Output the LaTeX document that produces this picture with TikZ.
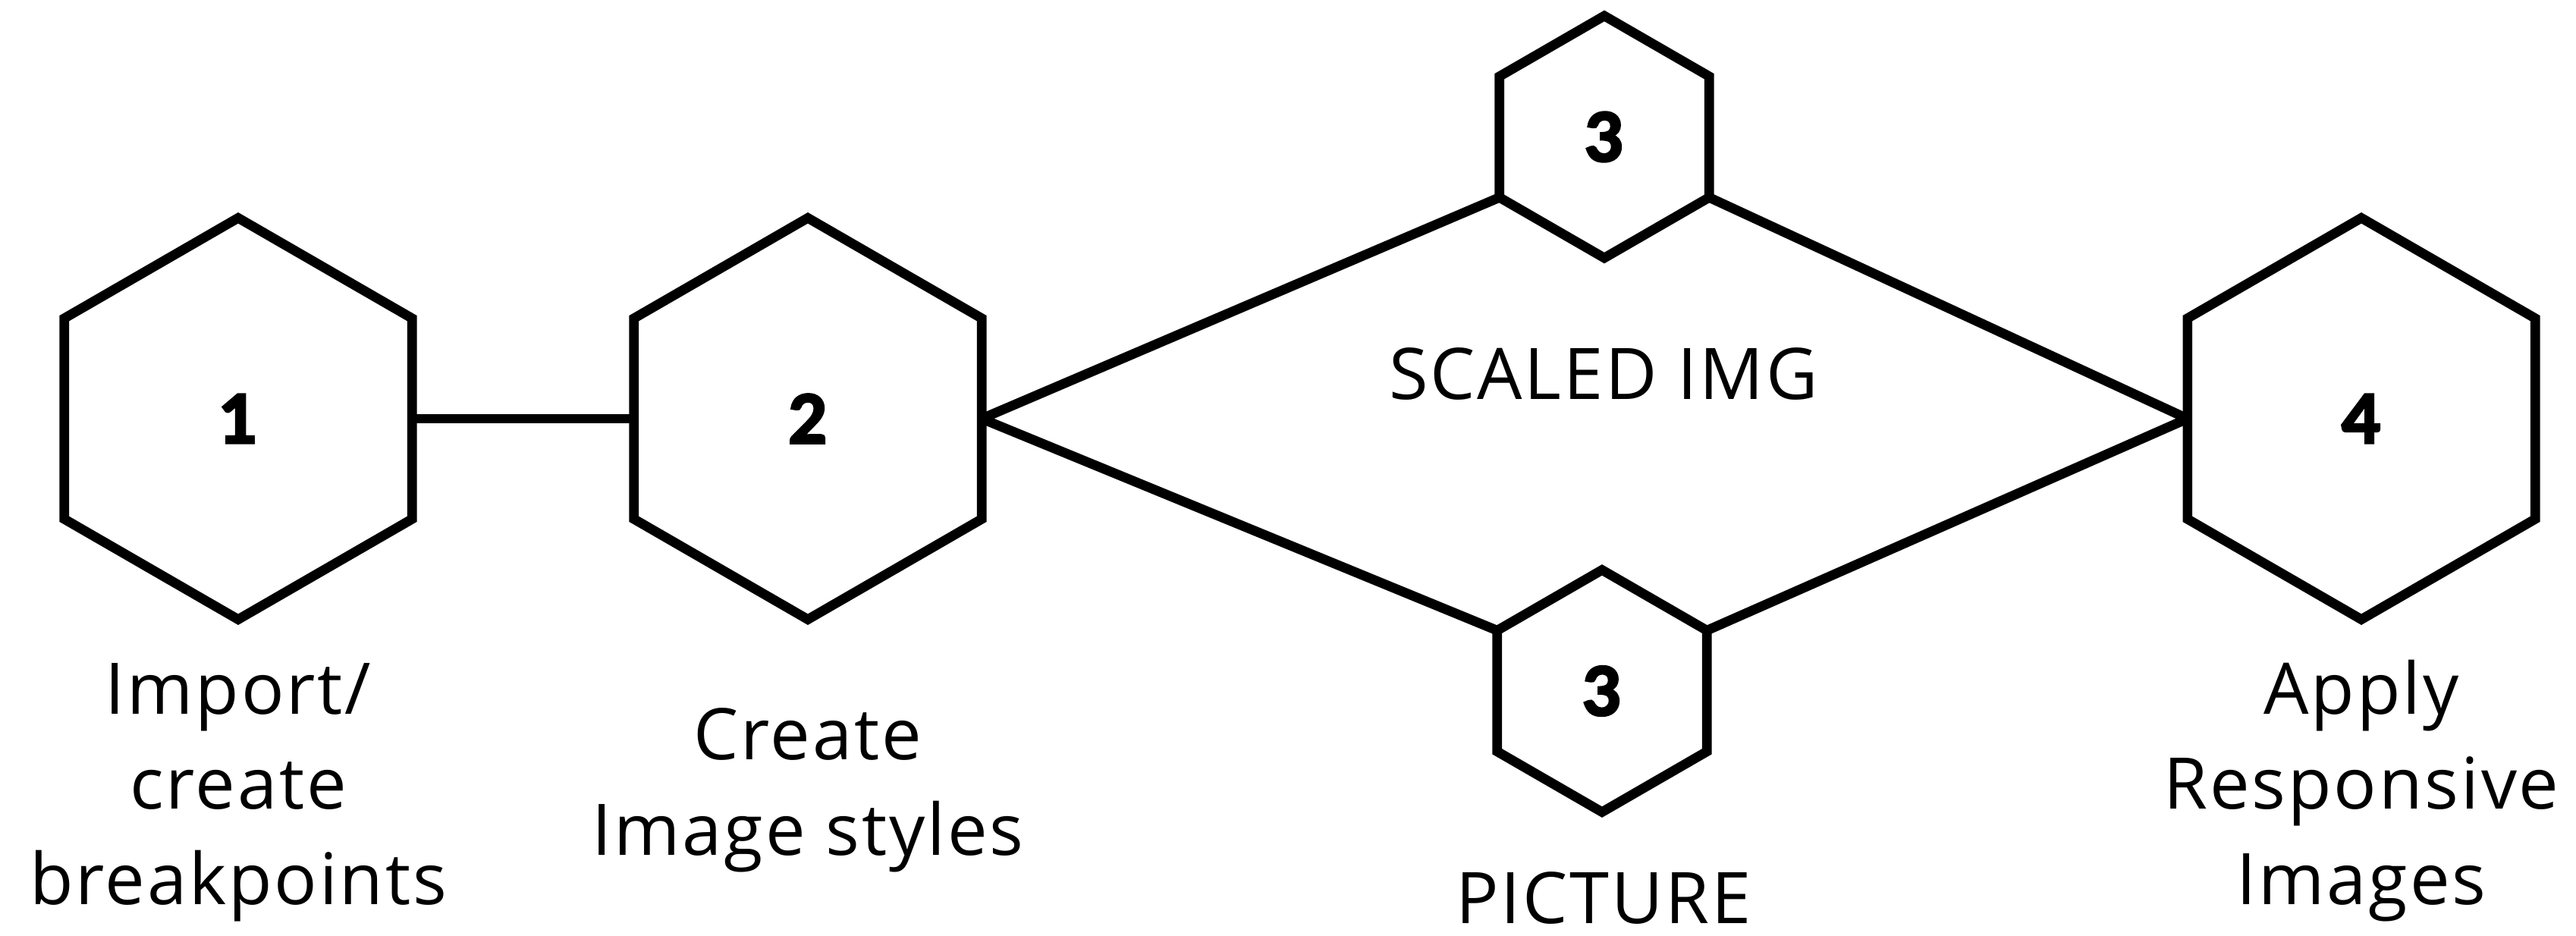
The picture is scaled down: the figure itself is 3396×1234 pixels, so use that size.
\documentclass[tikz,border=0pt]{standalone}
\usepackage{fontspec}
\setmainfont{Open Sans}[LetterSpace=3]
\newfontfamily\numfont{Lato}[BoldFeatures={FakeBold=4}]
\usetikzlibrary{shapes.geometric}
\begin{document}
\begin{tikzpicture}[x=0.01cm,y=-0.01cm,
  hexa/.style={regular polygon, regular polygon sides=6, shape border rotate=30,
    draw=black, line width=3.6pt, line join=miter, inner sep=0pt, outer sep=0pt,
    font=\numfont\bfseries\fontsize{25}{30}\selectfont},
  hexbig/.style={hexa, minimum size=5.29cm},
  hexsmall/.style={hexa, minimum size=3.19cm},
  conn/.style={draw=black, line width=3.6pt},
  lbl/.style={align=center, inner sep=0pt, anchor=base,
    font=\fontsize{26.7}{35.6}\selectfont}]
\useasboundingbox (0,0) rectangle (3396,1234);
\node[hexbig] (h1) at (314,552) {1};
\node[hexbig] (h2) at (1065,552) {2};
\node[hexsmall] (h3a) at (2115,180.5) {3};
\node[hexsmall] (h3b) at (2112,911) {3};
\node[hexbig] (h4) at (3113,552) {4};
\draw[conn] (h1.east) -- (h2.west);
\draw[conn] (h2.east) -- (h3a.-150);
\draw[conn] (h2.east) -- (h3b.150);
\draw[conn] (h3a.-30) -- (h4.west);
\draw[conn] (h3b.30) -- (h4.west);
\node[lbl] (t1) at (314,1192) {Import/\\create\\breakpoints};
\node[lbl] (t2) at (1065,1127) {Create\\Image styles};
\node[lbl] (t3a) at (2114,527) {SCALED IMG};
\node[lbl] (t3b) at (2114,1217) {PICTURE};
\node[lbl] (t4) at (3113,1192) {Apply\\Responsive\\Images};
\end{tikzpicture}
\end{document}
